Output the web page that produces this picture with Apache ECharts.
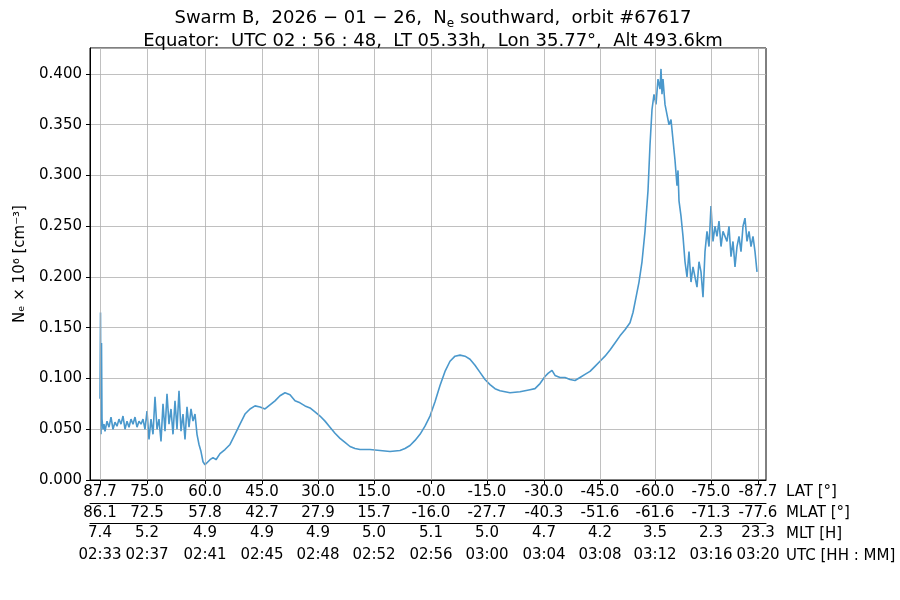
<!DOCTYPE html><html><head><meta charset="utf-8">
<script src="https://cdn.jsdelivr.net/npm/echarts@6/dist/echarts.min.js"></script>
<style>html,body{margin:0;background:#fff}#c{width:900px;height:600px}</style></head><body><div id="c"></div>
<script>
const tickPos=[100,147,205,262,318,374,431,487,544,600,655,711,758];
const latLabels=['87.7','75.0','60.0','45.0','30.0','15.0','-0.0','-15.0','-30.0','-45.0','-60.0','-75.0','-87.7'];
const mlatLabels=['86.1','72.5','57.8','42.7','27.9','15.7','-16.0','-27.7','-40.3','-51.6','-61.6','-71.3','-77.6'];
const mltLabels=['7.4','5.2','4.9','4.9','4.9','5.0','5.1','5.0','4.7','4.2','3.5','2.3','23.3'];
const utcLabels=['02:33','02:37','02:41','02:45','02:48','02:52','02:56','03:00','03:04','03:08','03:12','03:16','03:20'];
// [orbit position, Ne (10^6 cm^-3)]
const neSamples=[
[100,.080],[100.5,.165],[101,.045],[101.5,.135],[102,.060],[103,.050],[104,.055],
[105,.048],[107,.058],[109,.052],[111,.062],[113,.050],[115,.057],[117,.053],[119,.060],[121,.055],[123,.063],[125,.050],[127,.058],[129,.052],[131,.060],[133,.055],[135,.062],[137,.052],[139,.058],[141,.055],[143,.060],[145,.050],
[147,.068],[149,.040],[151,.060],[153,.045],[155,.082],[157,.050],[159,.060],[161,.038],[163,.075],[165,.048],[167,.085],[169,.055],[171,.070],[173,.045],[175,.078],[177,.050],[179,.088],[181,.048],[183,.065],[185,.040],[187,.072],[189,.052],[191,.070],[193,.058],[195,.065],[197,.045],[199,.035],[201,.028],[203,.018],[205,.015],[207,.017],[210,.020],[213,.022],[216,.020],[220,.026],[225,.030],[230,.035],[235,.045],[240,.055],[245,.065],[250,.070],[255,.073],[260,.072],[265,.070],[270,.074],[275,.078],[280,.083],[285,.086],[290,.084],[295,.078],[300,.076],[305,.073],[310,.071],[315,.067],[320,.063],[325,.058],[330,.052],[335,.046],[340,.041],[345,.037],[350,.033],[355,.031],[360,.030],[370,.030],[380,.029],[390,.028],[400,.029],[405,.031],[410,.034],[415,.039],[420,.045],[425,.053],[430,.063],[435,.077],[440,.093],[445,.107],[450,.117],[455,.122],[460,.123],[465,.122],[470,.119],[475,.113],[480,.106],[485,.099],[490,.094],[495,.090],[500,.088],[510,.086],[520,.087],[525,.088],[530,.089],[535,.090],[540,.095],[545,.102],[548,.105],[552,.108],[555,.103],[560,.101],[565,.101],[570,.099],[575,.098],[580,.101],[585,.104],[590,.107],[595,.112],[600,.117],[605,.122],[610,.128],[615,.135],[620,.142],[625,.148],[630,.155],[633,.165],[636,.180],[639,.195],[642,.215],[645,.245],[648,.285],[650,.330],[652,.365],[654,.380],[656,.370],[658,.395],[660,.385],[661,.405],[662,.380],[663,.395],[665,.370],[667,.360],[669,.350],[671,.355],[673,.335],[675,.315],[677,.290],[678,.305],[679,.275],[681,.260],[683,.240],[685,.215],[687,.200],[689,.225],[691,.195],[693,.210],[695,.200],[697,.190],[699,.215],[701,.205],[703,.180],[705,.225],[707,.245],[709,.230],[711,.270],[713,.235],[715,.250],[717,.240],[719,.255],[721,.230],[723,.245],[725,.240],[727,.235],[729,.250],[731,.220],[733,.235],[735,.210],[737,.230],[739,.240],[741,.225],[743,.250],[745,.258],[747,.235],[749,.245],[751,.230],[753,.240],[755,.225],[757,.205]];
const fs=15,col='#000',ff='DejaVu Sans';
function mk(labels,offset,showLine,idx){return{type:'value',min:90,max:766,position:'bottom',offset:offset,
 axisLine:{show:showLine,onZero:false,lineStyle:{color:'#000'}},axisTick:{show:idx===0,customValues:tickPos,length:4,lineStyle:{color:'#000'}},
 splitLine:{show:false},
 axisLabel:{customValues:tickPos,fontSize:fs,color:col,fontFamily:ff,margin:idx===0?5:3,formatter:v=>labels[tickPos.indexOf(v)]}}}
const names=['LAT [°]','MLAT [°]','MLT [H]','UTC [HH : MM]'];
const ch=echarts.init(document.getElementById('c'));
ch.setOption({animation:false,textStyle:{fontFamily:ff},
 title:{text:'Swarm B,  2026 − 01 − 26,  N{s|e} southward,  orbit #67617\nEquator:  UTC 02 : 56 : 48,  LT 05.33h,  Lon 35.77°,  Alt 493.6km',left:428,textAlign:'center',top:2,
  textStyle:{fontSize:18,fontWeight:'normal',color:'#000',fontFamily:ff,lineHeight:23,rich:{s:{fontSize:12,fontFamily:ff,verticalAlign:'bottom',padding:[8,0,0,0]}}}},
 grid:{left:90,right:134,top:48,bottom:120},
 xAxis:[mk(latLabels,0,true,0),mk(mlatLabels,23,true,1),mk(mltLabels,43,true,2),mk(utcLabels,65,false,3)],
 yAxis:{type:'value',min:0,max:0.4256,interval:0.05,axisLine:{show:true,lineStyle:{color:'#000'}},axisTick:{show:true,length:4,lineStyle:{color:'#000'}},
  axisLabel:{fontSize:fs,color:col,fontFamily:ff,formatter:v=>v.toFixed(3),showMaxLabel:false},splitLine:{lineStyle:{color:'#b0b0b0',width:0.8}},
  name:'Nₑ × 10⁶ [cm⁻³]',nameLocation:'middle',nameGap:62,nameRotate:90,nameTextStyle:{fontSize:15,color:'#000',fontFamily:ff}},
 graphic:[{type:'rect',shape:{x:90,y:48,width:676,height:432},style:{fill:'none',stroke:'#000',lineWidth:1},silent:true}].concat(
  names.map((t,i)=>({type:'text',left:786,top:[485,506,527,549][i],style:{text:t,fontSize:fs,fill:'#000',fontFamily:ff}}))),
 series:[{type:'line',data:neSamples,showSymbol:false,lineStyle:{color:'#4a98cc',width:1.6},xAxisIndex:0,
  markLine:{silent:true,symbol:'none',label:{show:false},lineStyle:{color:'#b0b0b0',width:0.8,type:'solid'},data:tickPos.map(p=>({xAxis:p}))}}]
});
</script></body></html>
